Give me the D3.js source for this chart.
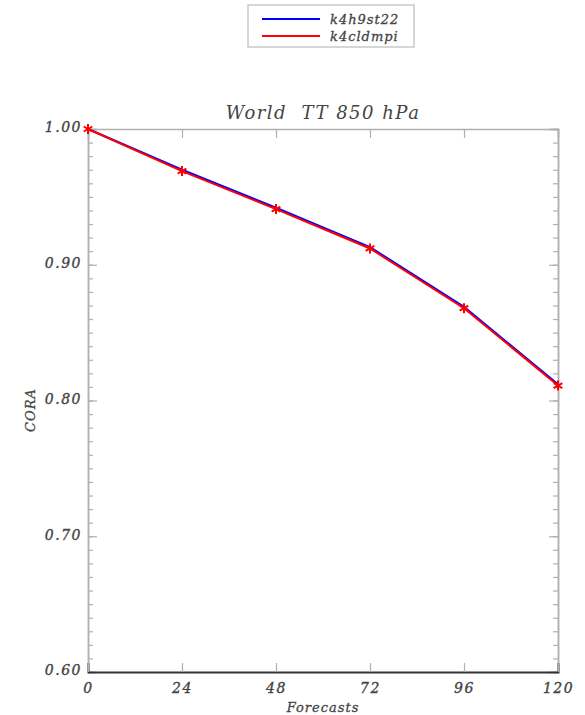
<!DOCTYPE html>
<html>
<head>
<meta charset="utf-8">
<script src="https://cdn.jsdelivr.net/npm/d3@7"></script>
<style>
  body { margin: 0; background: #fff; }
  text { font-family: "DejaVu Serif", serif; font-style: italic; fill: #444; }
</style>
</head>
<body>
<div class="chart"></div>
<script>
var forecasts = [0, 24, 48, 72, 96, 120];
var k4h9st22 = [1.000, 0.970, 0.942, 0.913, 0.869, 0.812];
var k4cldmpi = [1.000, 0.969, 0.941, 0.912, 0.868, 0.811];
var yTicks = [0.60, 0.70, 0.80, 0.90, 1.00];

var series = [
    {name: "k4h9st22", values: k4h9st22, color: "#0000ff", marker: false},
    {name: "k4cldmpi", values: k4cldmpi, color: "#ff0000", marker: true}
];

var margin = {top: 129, right: 27, bottom: 43, left: 88},
    width = 585 - margin.left - margin.right,
    height = 715 - margin.top - margin.bottom;

var svg = d3.select("div.chart").append("svg")
    .attr("width", 585)
    .attr("height", 715);

var g = svg.append("g")
    .attr("transform", "translate(" + margin.left + "," + margin.top + ")");

var x = d3.scaleLinear().domain([0, 120]).range([0, width]);
var y = d3.scaleLinear().domain([0.6, 1.0]).range([height, 0]);

var minor = d3.range(60, 101).map(function (d) { return d / 100; });

var leftMinor = d3.axisLeft(y).tickValues(minor).tickSize(-5).tickFormat("");
var leftMajor = d3.axisLeft(y).tickValues(yTicks).tickSize(-9).tickPadding(6)
    .tickFormat(d3.format(".2f"));
var rightMinor = d3.axisRight(y).tickValues(minor).tickSize(-5).tickFormat("");
var rightMajor = d3.axisRight(y).tickValues(yTicks).tickSize(-9).tickFormat("");
var bottomAxis = d3.axisBottom(x).tickValues(forecasts).tickSize(-9).tickPadding(11);
var topAxis = d3.axisTop(x).tickValues(forecasts).tickSize(-9).tickFormat("");

g.append("g").call(leftMinor);
var ly = g.append("g").call(leftMajor);
g.append("g").attr("transform", "translate(" + width + ",0)").call(rightMinor);
g.append("g").attr("transform", "translate(" + width + ",0)").call(rightMajor);
var bx = g.append("g").attr("transform", "translate(0," + height + ")").call(bottomAxis);
g.append("g").call(topAxis);

g.selectAll(".domain").attr("stroke", "#b0b0b0").attr("stroke-width", 1.5);
g.selectAll(".tick line").attr("stroke", "#b0b0b0").attr("stroke-width", 1.2);
bx.select(".domain").attr("stroke", "#333").attr("stroke-width", 1.8);

g.selectAll(".tick text")
    .style("font-family", "DejaVu Serif, serif")
    .style("font-style", "italic")
    .style("font-size", "14px")
    .style("letter-spacing", "1.5px")
    .attr("fill", "#444")
    .attr("stroke", "#444")
    .attr("stroke-width", 0.35);
ly.selectAll(".tick text").attr("dy", "0.2em");

var line = d3.line()
    .x(function (d, i) { return x(forecasts[i]); })
    .y(function (d) { return y(d); });

var star = d3.symbol().type(d3.symbolAsterisk).size(70);

series.forEach(function (s) {
    g.append("path")
        .datum(s.values)
        .attr("d", line)
        .attr("fill", "none")
        .attr("stroke", s.color)
        .attr("stroke-width", 2);
    if (!s.marker) return;
    g.selectAll(null)
        .data(s.values)
        .enter().append("path")
        .attr("d", star)
        .attr("transform", function (d, i) {
            return "translate(" + x(forecasts[i]) + "," + y(d) + ")";
        })
        .attr("stroke", s.color)
        .attr("stroke-width", 2)
        .attr("fill", "none");
});

// title and axis labels
svg.append("text")
    .attr("x", margin.left + width / 2)
    .attr("y", 119)
    .attr("text-anchor", "middle")
    .style("font-size", "18px")
    .style("letter-spacing", "1.5px")
    .attr("xml:space", "preserve")
    .text("World  TT 850 hPa");

svg.append("text")
    .attr("x", margin.left + width / 2)
    .attr("y", 712)
    .attr("text-anchor", "middle")
    .style("font-size", "13px")
    .style("letter-spacing", "1px")
    .attr("stroke", "#444").attr("stroke-width", 0.3)
    .text("Forecasts");

svg.append("text")
    .attr("transform", "translate(35,410) rotate(-90)")
    .attr("text-anchor", "middle")
    .style("font-size", "13px")
    .style("letter-spacing", "1px")
    .attr("stroke", "#444").attr("stroke-width", 0.3)
    .text("CORA");

// legend
var legend = svg.append("g").attr("transform", "translate(248,5)");
legend.append("rect")
    .attr("width", 166).attr("height", 42)
    .attr("fill", "#fff").attr("stroke", "#bbb").attr("stroke-width", 1.2);
series.forEach(function (s, i) {
    var ly0 = 14 + i * 17;
    legend.append("line")
        .attr("x1", 14).attr("x2", 72)
        .attr("y1", ly0).attr("y2", ly0)
        .attr("stroke", s.color).attr("stroke-width", 2);
    legend.append("text")
        .attr("x", 82).attr("y", ly0 + 5)
        .style("font-size", "13px")
        .style("letter-spacing", "1px")
        .attr("stroke", "#444").attr("stroke-width", 0.3)
        .text(s.name);
});
</script>
</body>
</html>
